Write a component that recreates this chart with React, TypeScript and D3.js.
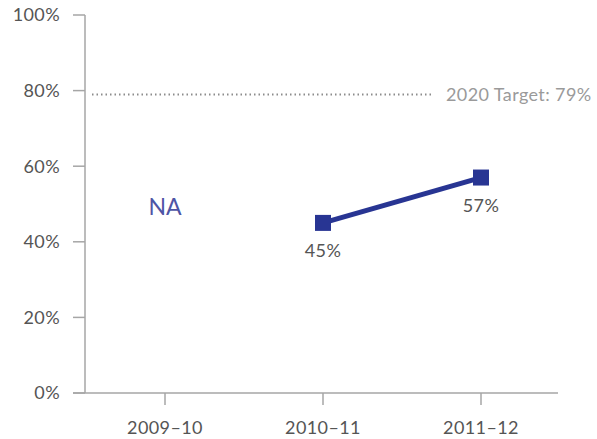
import * as React from "react";
import { scaleLinear, scalePoint, line } from "d3";

// data
const categories = ["2009–10", "2010–11", "2011–12"];
const values: (number | null)[] = [null, 45, 57];
const yTicks = [0, 20, 40, 60, 80, 100];
const target = 79;
const targetLabel = "2020 Target: 79%";
const missingLabel = "NA";

const W = 597;
const H = 439;
const FONT = "Lato, 'Noto Sans', sans-serif";
const AXIS = "#a6a6a6";
const TEXT = "#555555";
const NAVY = "#283593";

export default function App() {
    const x = scalePoint<string>().domain(categories).range([165, 481]);
    const y = scaleLinear().domain([0, 100]).range([393, 15]);

    const axisLeftX = 85;
    const axisLeftEnd = 73;
    const axisRightEnd = 558;

    const pts = categories
        .map((c, i) => ({ c, v: values[i] }))
        .filter(d => d.v !== null) as { c: string; v: number }[];

    const path = line<{ c: string; v: number }>()
        .x(d => x(d.c)!)
        .y(d => y(d.v))(pts);

    const sq = 16;
    const fs = 18;
    const ls = 0.4;

    return (
        <svg width={W} height={H} style={{ position: "absolute", left: 0, top: 0 }}>
            {/* y axis */}
            <line x1={axisLeftX} x2={axisLeftX} y1={y(100)} y2={y(0)} stroke={AXIS} strokeWidth={1.5} />
            {yTicks.map(t => (
                <g key={t}>
                    <line x1={axisLeftX - 12} x2={axisLeftX} y1={y(t)} y2={y(t)} stroke={AXIS} strokeWidth={1.5} />
                    <text x={60} y={y(t)} dy="0.35em" textAnchor="end" fontFamily={FONT} fontSize={fs} letterSpacing={ls} fill={TEXT}>
                        {t}%
                    </text>
                </g>
            ))}

            {/* x axis */}
            <line x1={axisLeftEnd} x2={axisRightEnd} y1={y(0)} y2={y(0)} stroke={AXIS} strokeWidth={1.5} />
            {categories.map(c => (
                <g key={c}>
                    <line x1={x(c)} x2={x(c)} y1={y(0)} y2={y(0) + 12} stroke={AXIS} strokeWidth={1.5} />
                    <text x={x(c)} y={428} dy="0.35em" textAnchor="middle" fontFamily={FONT} fontSize={fs} letterSpacing={ls} fill={TEXT}>
                        {c}
                    </text>
                </g>
            ))}

            {/* target */}
            <line x1={92} x2={432} y1={y(target)} y2={y(target)} stroke="#8c8c8c" strokeWidth={2} strokeDasharray="1.5 3" />
            <text x={446} y={y(target)} dy="0.35em" fontFamily={FONT} fontSize={fs} letterSpacing={ls} fill="#9a9a9a">
                {targetLabel}
            </text>

            {/* NA */}
            {categories.map((c, i) =>
                values[i] === null ? (
                    <text key={c} x={x(c)} y={207} dy="0.35em" textAnchor="middle" fontFamily={FONT} fontSize={23} fill="#4e55a5">
                        {missingLabel}
                    </text>
                ) : null
            )}

            {/* series */}
            <path d={path || ""} fill="none" stroke={NAVY} strokeWidth={5} />
            {pts.map(d => (
                <g key={d.c}>
                    <rect x={x(d.c)! - sq / 2} y={y(d.v) - sq / 2} width={sq} height={sq} fill={NAVY} />
                    <text x={x(d.c)} y={y(d.v) + 28} dy="0.35em" textAnchor="middle" fontFamily={FONT} fontSize={fs} letterSpacing={ls} fill={TEXT}>
                        {d.v}%
                    </text>
                </g>
            ))}
        </svg>
    );
}
